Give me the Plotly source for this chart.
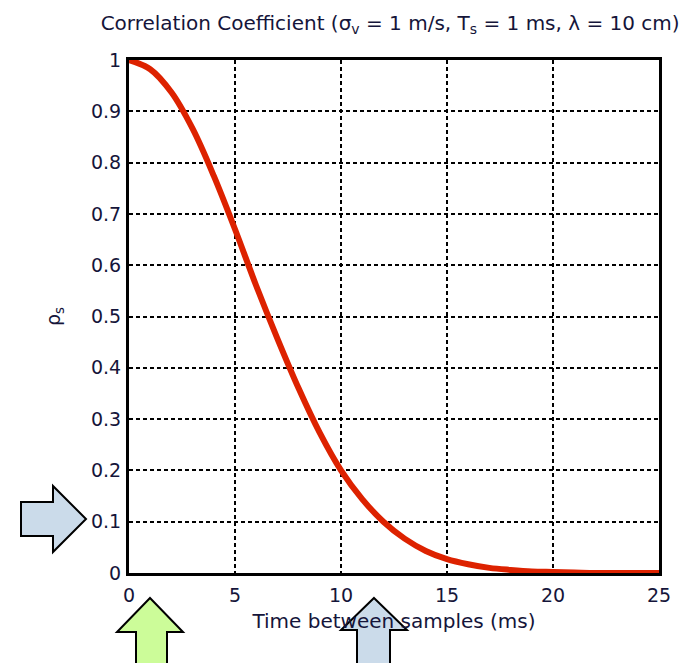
import plotly.graph_objects as go

# Data
time_ms = [0, 1, 2, 3, 4, 5, 6, 7, 8, 9, 10, 11, 12, 13, 14, 15, 16, 17, 18, 19, 20, 21, 22, 23, 24, 25]
rho_s = [1.0, 0.982, 0.937, 0.866, 0.774, 0.67, 0.56, 0.457, 0.36, 0.273, 0.20, 0.144,
         0.10, 0.067, 0.043, 0.027, 0.017, 0.010, 0.006, 0.003, 0.002, 0.001, 0.0, 0.0, 0.0, 0.0]
x_ticks = [0, 5, 10, 15, 20, 25]
y_ticks = [0, 0.1, 0.2, 0.3, 0.4, 0.5, 0.6, 0.7, 0.8, 0.9, 1]
y_tick_text = ["0", "0.1", "0.2", "0.3", "0.4", "0.5", "0.6", "0.7", "0.8", "0.9", "1"]

W_IMG, H_IMG = 693, 663
L, R, T, B = 129, 659, 60, 573
PW, PH = R - L, B - T

FONT = "DejaVu Sans"
TXT = "#15153a"

fig = go.Figure()
fig.add_trace(go.Scatter(
    x=time_ms, y=rho_s, mode="lines",
    line=dict(color="#dd2200", width=6, shape="spline", smoothing=1.0),
    showlegend=False, hoverinfo="skip"))


def P(px, py):
    return (px - L) / PW, (B - py) / PH


def path(points):
    s = ""
    for i, (px, py) in enumerate(points):
        x, y = P(px, py)
        s += ("M" if i == 0 else "L") + f"{x:.5f},{y:.5f} "
    return s + "Z"


arrows = [
    ([(21, 502), (53, 502), (53, 486), (86, 519), (53, 552), (53, 536), (21, 536)], "#cbdbea"),
    ([(150, 598), (183, 632), (167, 632), (167, 668), (136, 668), (136, 632), (117, 632)], "#ccfc99"),
    ([(374, 598), (407, 630), (390, 630), (390, 668), (357, 668), (357, 630), (341, 630)], "#cbdbea"),
]
shapes = [dict(type="path", xref="paper", yref="paper", path=path(pts),
               fillcolor=c, line=dict(color="black", width=2), layer="above")
          for pts, c in arrows]

axis_common = dict(
    showline=True, linecolor="black", linewidth=3, mirror=True,
    showgrid=True, gridcolor="black", gridwidth=2, griddash="4px,3px",
    zeroline=False, ticks="outside", tickcolor="rgba(0,0,0,0)",
    tickfont=dict(family=FONT, size=19, color=TXT), layer="below traces",
)

fig.update_layout(
    width=W_IMG, height=H_IMG,
    margin=dict(l=L, r=W_IMG - R, t=T, b=H_IMG - B),
    paper_bgcolor="white", plot_bgcolor="white",
    title=dict(text="Correlation Coefficient (σ<sub>v</sub> = 1 m/s, T<sub>s</sub> = 1 ms, λ = 10 cm)",
               x=0.563, xanchor="center", y=0.965, yanchor="middle",
               font=dict(family=FONT, size=20, color=TXT)),
    xaxis=dict(range=[0, 25], tickvals=x_ticks, ticklen=3,
               title=dict(text="Time between samples (ms)", standoff=10,
                          font=dict(family=FONT, size=20, color=TXT)),
               **axis_common),
    yaxis=dict(range=[0, 1], tickvals=y_ticks, ticktext=y_tick_text, ticklen=1,
               title=dict(text="ρ<sub>s</sub>", standoff=26,
                          font=dict(family=FONT, size=19, color=TXT)),
               **axis_common),
    shapes=shapes,
)

fig.write_html("out.html")
